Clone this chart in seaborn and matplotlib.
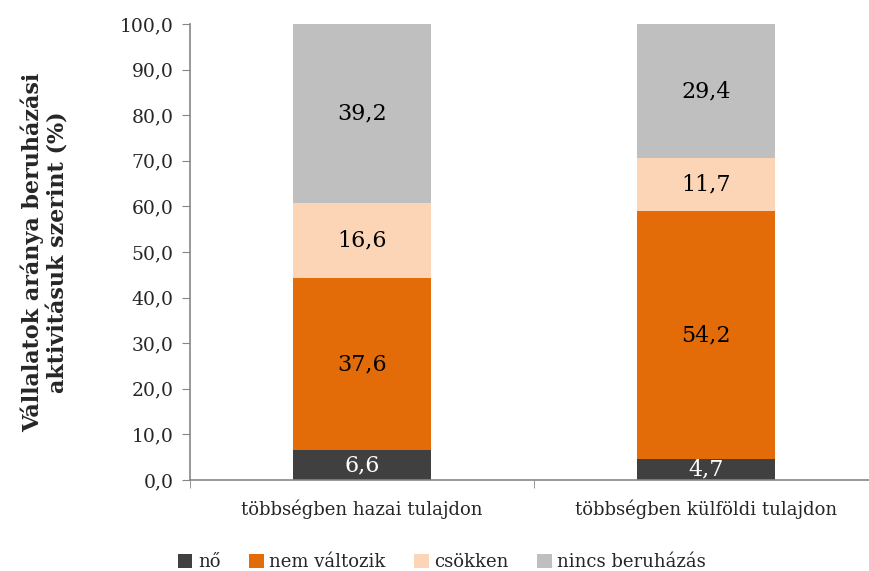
import numpy as np
import matplotlib
matplotlib.use("Agg")
import matplotlib.pyplot as plt
import seaborn as sns
from matplotlib.patches import Patch

# Adatok
categories = ['többségben hazai tulajdon', 'többségben külföldi tulajdon']
series_names = ['nő', 'nem változik', 'csökken', 'nincs beruházás']
no_vals = [6.6, 4.7]
nem_valtozik_vals = [37.6, 54.2]
csokken_vals = [16.6, 11.7]
nincs_vals = [39.2, 29.4]
colors = ['#404040', '#E36C09', '#FBD5B5', '#BFBFBF']
label_colors = ['white', 'black', 'black', 'black']
y_ticks = [0, 10, 20, 30, 40, 50, 60, 70, 80, 90, 100]

sns.set_style("white")
plt.rcParams['font.family'] = ['DejaVu Serif']

fig = plt.figure(figsize=(8.69, 5.71), dpi=100)
ax = fig.add_axes([190 / 869, 1 - 480 / 571, 688 / 869, 456 / 571])

bottom = np.zeros(len(categories))
all_vals = [no_vals, nem_valtozik_vals, csokken_vals, nincs_vals]
for vals, col, lcol in zip(all_vals, colors, label_colors):
    sns.barplot(x=categories, y=vals, bottom=bottom, color=col, width=0.4,
                saturation=1, ax=ax, linewidth=0)
    for i, v in enumerate(vals):
        ax.text(i, bottom[i] + v / 2, f"{v:.1f}".replace('.', ','),
                ha='center', va='center', fontsize=16, color=lcol)
    bottom = bottom + np.array(vals)

ax.set_xlim(-0.5, 1.5)
ax.set_ylim(0, 100)
ax.set_yticks(y_ticks)
ax.set_yticklabels([f"{t:.1f}".replace('.', ',') for t in y_ticks], fontsize=13.5)
ax.set_xticks([0, 1])
ax.set_xticklabels(categories, fontsize=13)
ax.set_xticks([-0.5, 0.5, 1.5], minor=True)
ax.tick_params(axis='x', which='major', length=0, pad=14)
ax.tick_params(axis='x', which='minor', length=6, color='#868686', direction='out', bottom=True)
ax.tick_params(axis='y', length=6, color='#868686', direction='out', left=True, pad=6)
for s in ['top', 'right']:
    ax.spines[s].set_visible(False)
for s in ['left', 'bottom']:
    ax.spines[s].set_color('#868686')
    ax.spines[s].set_linewidth(1.2)

ax.set_ylabel('Vállalatok aránya beruházási\naktivitásuk szerint (%)',
              fontsize=16, fontweight='bold', labelpad=36)
ax.set_xlabel('')

handles = [Patch(facecolor=c, edgecolor='none') for c in colors]
fig.legend(handles, series_names, loc='center', bbox_to_anchor=(442 / 869, 1 - 562 / 571),
           ncol=4, frameon=False, fontsize=13, handlelength=0.8, handleheight=0.8,
           handletextpad=0.3, columnspacing=1.6)

plt.savefig("out.png", dpi=100)
plt.close()
